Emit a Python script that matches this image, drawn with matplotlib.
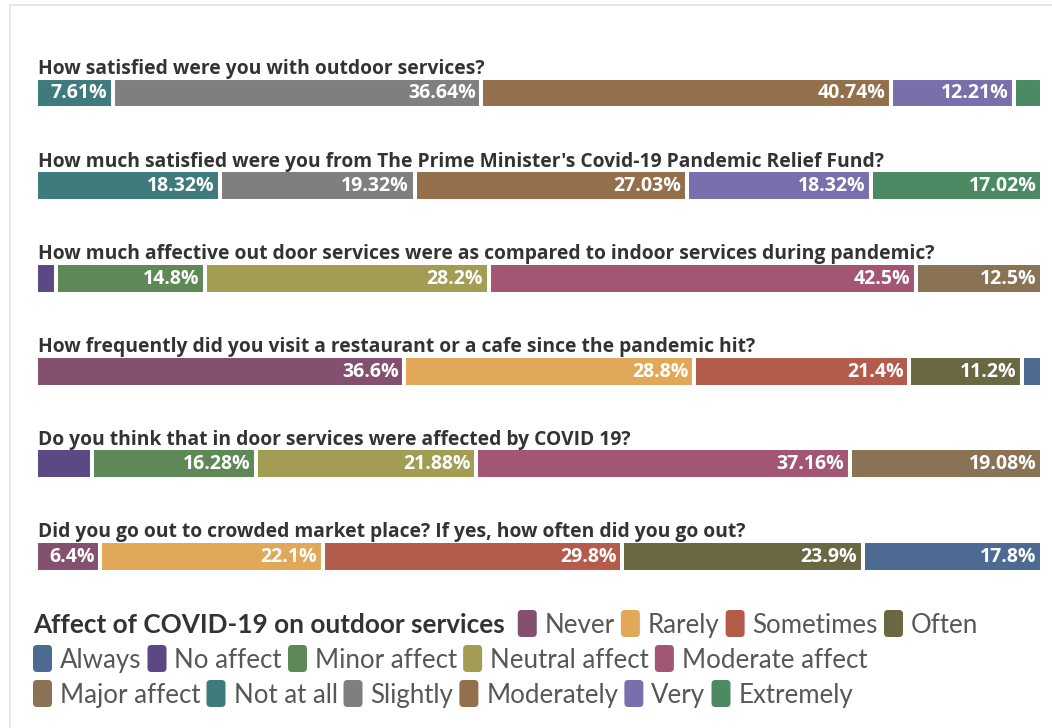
import matplotlib.pyplot as plt
from matplotlib.patches import FancyBboxPatch
from matplotlib.lines import Line2D
from matplotlib.transforms import IdentityTransform

# survey questions, top to bottom
questions = [
    "How satisfied were you with outdoor services?",
    "How much satisfied were you from The Prime Minister's Covid-19 Pandemic Relief Fund?",
    "How much affective out door services were as compared to indoor services during pandemic?",
    "How frequently did you visit a restaurant or a cafe since the pandemic hit?",
    "Do you think that in door services were affected by COVID 19?",
    "Did you go out to crowded market place? If yes, how often did you go out?",
]

satisfaction = ["Not at all", "Slightly", "Moderately", "Very", "Extremely"]
affect = ["No affect", "Minor affect", "Neutral affect", "Moderate affect", "Major affect"]
frequency = ["Never", "Rarely", "Sometimes", "Often", "Always"]

row_categories = [satisfaction, satisfaction, affect, frequency, affect, frequency]

# answer shares in percent, same order as the categories
row_values = [
    [7.61, 36.64, 40.74, 12.21, 2.8],
    [18.32, 19.32, 27.03, 18.32, 17.02],
    [2.0, 14.8, 28.2, 42.5, 12.5],
    [36.6, 28.8, 21.4, 11.2, 2.0],
    [5.6, 16.28, 21.88, 37.16, 19.08],
    [6.4, 22.1, 29.8, 23.9, 17.8],
]

legend_title = "Affect of COVID-19 on outdoor services"
legend_order = frequency + affect + satisfaction

colors = {
    "Never": "#84506f",
    "Rarely": "#e2a85a",
    "Sometimes": "#b35c4b",
    "Often": "#6a6743",
    "Always": "#4c6a92",
    "No affect": "#5b4885",
    "Minor affect": "#5e8856",
    "Neutral affect": "#a29d52",
    "Moderate affect": "#a35673",
    "Major affect": "#8a7254",
    "Not at all": "#3f7a7c",
    "Slightly": "#7f7f7f",
    "Moderately": "#93704b",
    "Very": "#7a6fad",
    "Extremely": "#4b8a63",
}

W, H = 1052, 728
fig = plt.figure(figsize=(W / 100, H / 100), dpi=100)
fig.patch.set_facecolor("white")

# light panel border on the left and top
fig.add_artist(Line2D([10 / W, 10 / W], [0, 1 - 5 / H], transform=fig.transFigure,
                      color="#e2e2e2", lw=1.2))
fig.add_artist(Line2D([10 / W, 1], [1 - 5 / H, 1 - 5 / H], transform=fig.transFigure,
                      color="#e2e2e2", lw=1.2))

ax = fig.add_axes([36 / W, 1 - 602.85 / H, 1006 / W, 556.2 / H])
bar_h = 0.334

for i, (q, cats, vals) in enumerate(zip(questions, row_categories, row_values)):
    left = 0
    for cat, v in zip(cats, vals):
        ax.barh(i, v, left=left, height=bar_h, color=colors[cat],
                edgecolor="white", linewidth=2.9)
        if v >= 6:
            ax.annotate(f"{v:g}%", xy=(left + v, i), xytext=(-4.0, -0.3),
                        textcoords="offset points", ha="right", va="center",
                        color="white", fontsize=14, fontweight="bold",
                        family="Open Sans")
        left += v
    ax.annotate(q, xy=(0, i - bar_h / 2), xytext=(1.5, 2.6), textcoords="offset points",
                ha="left", va="baseline", color="#333333", fontsize=13.9,
                fontweight="bold", family="Open Sans")

ax.set_xlim(0, 100)
ax.set_ylim(5.5, -0.5)
ax.axis("off")

# legend laid out as wrapping rows of swatch + label
renderer = fig.canvas.get_renderer()
baselines = [H - 633, H - 668, H - 703]
x0, x_max = 33, 1000
line = 0

t = fig.text(x0, baselines[0], legend_title, transform=IdentityTransform(),
             ha="left", va="baseline", fontsize=18.8, fontweight="bold",
             color="#333333", family="Lato")
x = x0 + t.get_window_extent(renderer).width + 13

sw_w, sw_h, gap = 19, 27, 8
for name in legend_order:
    t = fig.text(0, 0, name, transform=IdentityTransform(), ha="left", va="baseline",
                 fontsize=18.6, color="#575757", family="Lato")
    tw = t.get_window_extent(renderer).width
    if x + sw_w + gap + tw > x_max:
        line += 1
        x = x0
    y = baselines[line]
    fig.add_artist(FancyBboxPatch((x, y - 4), sw_w, sw_h,
                                  boxstyle="round,pad=0,rounding_size=4",
                                  transform=IdentityTransform(),
                                  facecolor=colors[name], edgecolor="none"))
    t.set_position((x + sw_w + gap, y))
    x += sw_w + gap + tw + 6

fig.savefig("out.png", dpi=100, facecolor="white")
